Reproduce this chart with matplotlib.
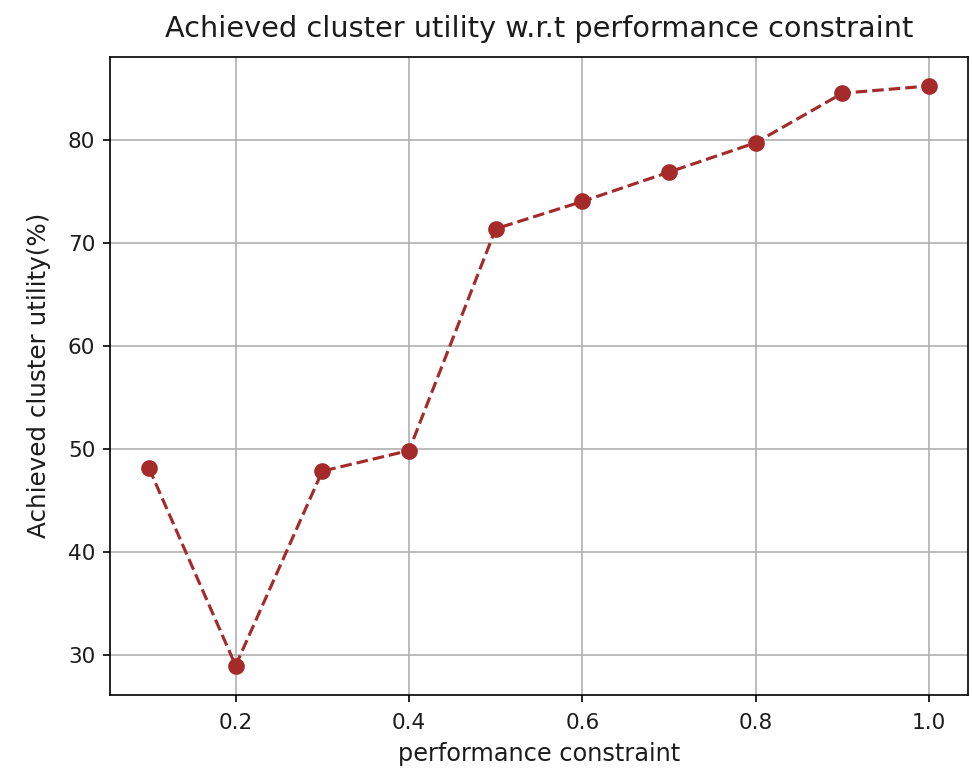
import matplotlib
matplotlib.use("Agg")
import matplotlib.pyplot as plt

constraint = [0.1, 0.2, 0.3, 0.4, 0.5, 0.6, 0.7, 0.8, 0.9, 1.0]
utility = [48.15, 29.0, 47.85, 49.85, 71.35, 74.0, 76.85, 79.7, 84.5, 85.2]

plt.rcParams.update({"text.color": "#1c1c1c", "axes.labelcolor": "#1c1c1c",
                     "xtick.labelcolor": "#1c1c1c", "ytick.labelcolor": "#1c1c1c"})

fig, ax = plt.subplots(figsize=(973 / 150, 770 / 150), dpi=150)
ax.plot(constraint, utility, linestyle='--', marker='o', markersize=7, color='brown')
ax.grid(True)
ax.set_title('Achieved cluster utility w.r.t performance constraint', fontsize=13.8, pad=9.5)
ax.set_xlabel('performance constraint', fontsize=11.5, labelpad=4)
ax.set_ylabel('Achieved cluster utility(%)', fontsize=11.8, labelpad=8)
ax.tick_params(labelsize=10.4)
ax.tick_params(axis='x', pad=5.5)
fig.subplots_adjust(left=0.113, right=0.995, top=0.926, bottom=0.098)
fig.savefig('out.png', dpi=150, facecolor='white')
